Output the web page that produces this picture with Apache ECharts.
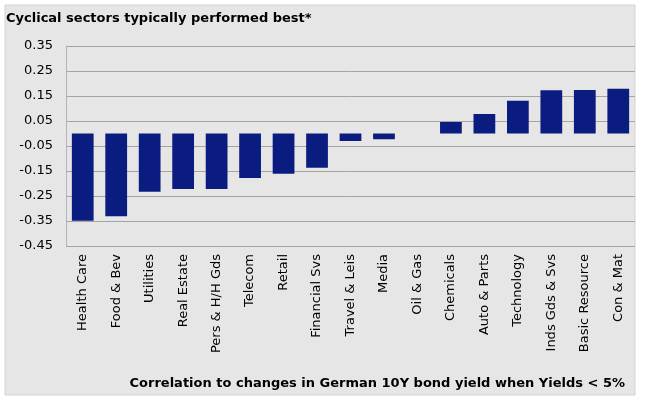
<!DOCTYPE html>
<html><head><meta charset="utf-8">
<script src="https://cdn.jsdelivr.net/npm/echarts@6/dist/echarts.min.js"></script>
<style>html,body{margin:0;padding:0;background:#fff}#c{width:645px;height:400px}</style>
</head><body><div id="c"></div>
<script>
const categories = ["Health Care","Food & Bev","Utilities","Real Estate","Pers & H/H Gds","Telecom","Retail","Financial Svs","Travel & Leis","Media","Oil & Gas","Chemicals","Auto & Parts","Technology","Inds Gds & Svs","Basic Resource","Con & Mat"];
const values = [-0.349,-0.331,-0.233,-0.222,-0.222,-0.178,-0.161,-0.137,-0.030,-0.023,0.000,0.046,0.078,0.131,0.173,0.174,0.179];
const titleText = "Cyclical sectors typically performed best*";
const footText = "Correlation to changes in German 10Y bond yield when Yields < 5%";

const chart = echarts.init(document.getElementById('c'), null, {renderer:'canvas'});
const font = "'DejaVu Sans', Verdana, sans-serif";
chart.setOption({
  backgroundColor: '#ffffff',
  animation: false,
  graphic: [
    {type:'rect', z:-10, shape:{x:5,y:5,width:630,height:390}, style:{fill:'#e6e6e6', stroke:'#d2d2d2', lineWidth:1}}
  ],
  title: [
    {text: titleText, left: 1, top: 7, textStyle:{fontFamily:font, fontSize:13, fontWeight:'bold', color:'#000'}},
    {text: footText, right: 15, top: 372, textStyle:{fontFamily:font, fontSize:13, fontWeight:'bold', color:'#000'}}
  ],
  grid: {left: 66, right: 10, top: 46, bottom: 154, containLabel: false},
  xAxis: {
    type: 'category', data: categories,
    axisLine: {show: false}, axisTick: {show: false},
    axisLabel: {rotate: 90, interval: 0, margin: 8, fontFamily: font, fontSize: 13, color: '#000'}
  },
  yAxis: {
    type: 'value', min: -0.45, max: 0.35, interval: 0.1,
    axisLine: {show: true, lineStyle: {color: '#b4b4b4', width: 1}},
    axisTick: {show: false},
    splitLine: {show: true, lineStyle: {color: '#a4a4a4', width: 1}},
    axisLabel: {margin: 13, fontFamily: font, fontSize: 13, color: '#000', formatter: v => (Math.round(v*100)/100).toFixed(2)}
  },
  series: [{
    type: 'bar', data: values, barWidth: '65%',
    itemStyle: {color: '#0b1c80'}
  }]
});
</script></body></html>
